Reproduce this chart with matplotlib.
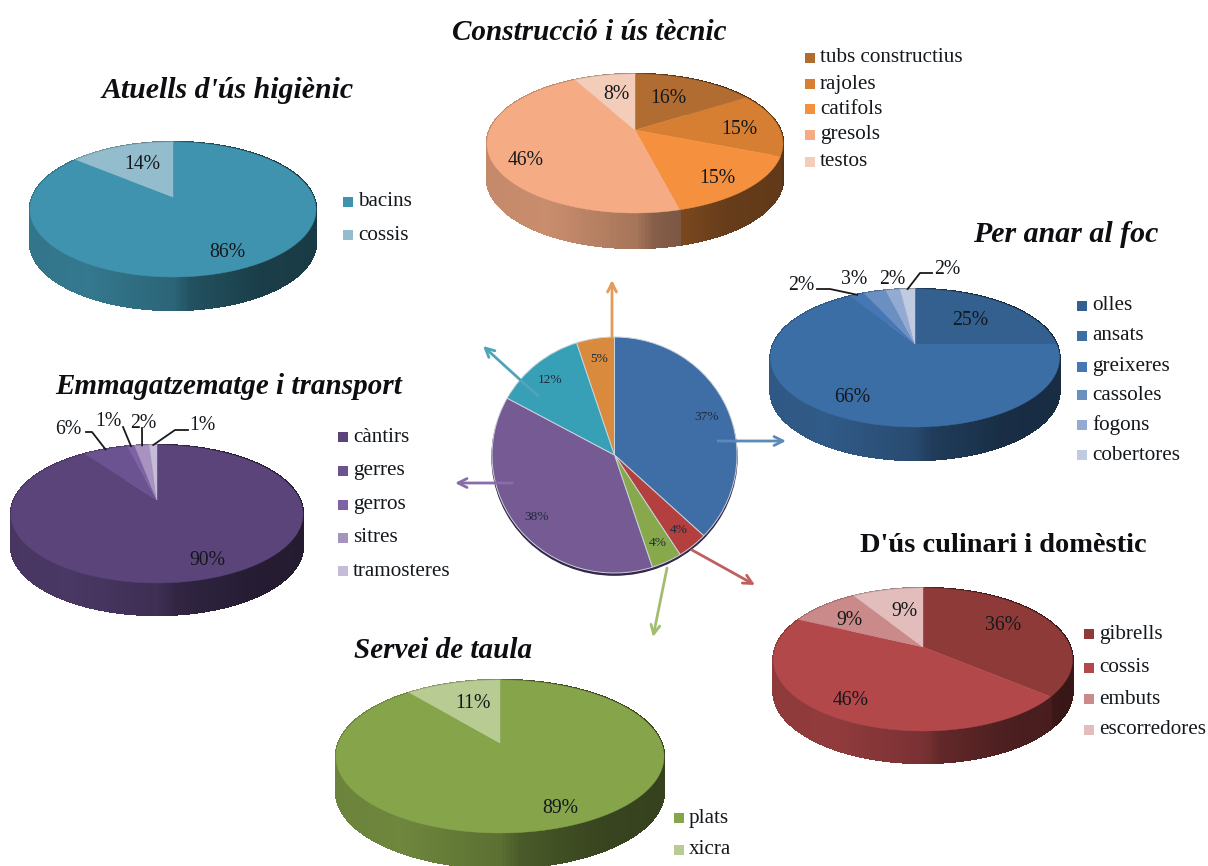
#!/usr/bin/env python3
"""
Pie charts of pottery use: one flat overview pie with six 3D detail pies around it.
"""

import numpy as np
import matplotlib
matplotlib.use("Agg")
import matplotlib.pyplot as plt
from matplotlib.patches import Ellipse

WIDTH, HEIGHT = 1208, 866
SERIF = "Liberation Serif"
TEXT_DARK = "#14181c"

# overview
overview_values = [37, 4, 4, 38, 12, 5]

# detail pies
higienic_labels = ["bacins", "cossis"]
higienic_values = [86, 14]
tecnic_labels = ["tubs constructius", "rajoles", "catifols", "gresols", "testos"]
tecnic_values = [16, 15, 15, 46, 8]
foc_labels = ["olles", "ansats", "greixeres", "cassoles", "fogons", "cobertores"]
foc_values = [25, 66, 2, 3, 2, 2]
transport_labels = ["càntirs", "gerres", "gerros", "sitres", "tramosteres"]
transport_values = [90, 6, 1, 2, 1]
culinari_labels = ["gibrells", "cossis", "embuts", "escorredores"]
culinari_values = [36, 46, 9, 9]
taula_labels = ["plats", "xicra"]
taula_values = [89, 11]

OVERVIEW_COLORS = ["#3f6ea6", "#b33f3e", "#87a94b", "#755a93", "#38a0b6", "#d98a3c"]

# box: left, right, top, apex_x, apex_y, front, bottom in pixels
# nudge: pixel shift of each inside label from its computed place
PIES = [
    {
        "title": "Atuells d'ús higiènic", "title_pos": (228, 91), "title_size": 21.5,
        "labels": higienic_labels, "values": higienic_values,
        "colors": ["#3f93ae", "#93bccd"],
        "box": (30, 316, 142, 173, 197, 277, 310),
        "legend": (348, 358, [202, 235]),
        "nudge": {0: (4, 0), 1: (9, 0)},
    },
    {
        "title": "Construcció i ús tècnic", "title_pos": (589, 32), "title_size": 21,
        "labels": tecnic_labels, "values": tecnic_values,
        "colors": ["#b16c32", "#d67f33", "#f4903e", "#f5ac85", "#f3cdb9"],
        "box": (487, 783, 74, 635, 130, 213, 248),
        "legend": (810, 820, [58, 84, 109, 135, 162]),
        "nudge": {0: (-13, 1), 1: (-1, -2), 2: (3, 1), 3: (-4, 5), 4: (5, 1)},
    },
    {
        "title": "Per anar al foc", "title_pos": (1066, 234), "title_size": 21.5,
        "labels": foc_labels, "values": foc_values,
        "colors": ["#34608f", "#3b6ea5", "#4577b4", "#6b8fc0", "#93abd3", "#c0cbe1"],
        "box": (769, 1058, 289, 915, 344, 427, 460),
        "legend": (1082, 1092, [306, 336, 367, 395, 425, 455]),
        "nudge": {0: (-12, 2), 1: (-5, -2)},
        "outside": {
            2: ((801, 282), [(817, 289), (830, 289)]),
            3: ((854, 276), []),
            4: ((892, 276), []),
            5: ((947, 267), [(932, 273), (920, 273)]),
        },
    },
    {
        "title": "Emmagatzematge i transport", "title_pos": (229, 386), "title_size": 21,
        "labels": transport_labels, "values": transport_values,
        "colors": ["#5a447a", "#6b5290", "#7f62a3", "#a693c0", "#c7bcd8"],
        "box": (12, 304, 445, 157, 500, 583, 615),
        "legend": (343, 353, [437, 471, 505, 538, 571]),
        "nudge": {0: (12, 0)},
        "outside": {
            1: ((68, 426), [(86, 432), (92, 432)]),
            2: ((108, 419), [(123, 427)]),
            3: ((143, 420), [(142, 428)]),
            4: ((202, 423), [(188, 430), (175, 430)]),
        },
    },
    {
        "title": "D'ús culinari i domèstic", "title_pos": (1003, 545), "title_size": 20.4,
        "title_style": "normal",
        "labels": culinari_labels, "values": culinari_values,
        "colors": ["#8e3a38", "#b2484a", "#cb8a8a", "#e3bcbc"],
        "box": (773, 1072, 588, 923, 647, 731, 763),
        "legend": (1089, 1099, [634, 668, 699, 730]),
        "nudge": {0: (-13, -7), 1: (-7, -1), 2: (2, -1), 3: (8, 2)},
    },
    {
        "title": "Servei de taula", "title_pos": (443, 650), "title_size": 21,
        "labels": taula_labels, "values": taula_values,
        "colors": ["#86a44a", "#b7cb93"],
        "box": (335, 663, 680, 500, 743, 833, 868),
        "legend": (679, 689, [818, 850]),
        "nudge": {0: (14, 1), 1: (9, 0)},
    },
]

# tail and head of each arrow leaving the overview pie, with its colour
ARROWS = [
    ((718, 441), (786, 441), "#5b8ab8"),
    ((692, 550), (755, 585), "#c0605e"),
    ((667, 568), (653, 637), "#a3bd6f"),
    ((512, 483), (455, 483), "#8a6cab"),
    ((538, 396), (483, 346), "#4ea5bb"),
    ((612, 337), (612, 280), "#e39a5b"),
]


def make_projection(box):
    """Return a function mapping pie plane (u, v) to pixels with perspective."""
    left, right, _, apex_x, apex_y, front, _ = box
    back = apex_y - box[2]
    ahead = front - apex_y
    k = (ahead - back) / (ahead + back)
    a = 2 * back * ahead / (back + ahead)
    r = (right - left) / 2 * np.sqrt(1 - k ** 2)

    def project(u, v):
        return apex_x + r * u / (1 + k * v), apex_y - a * v / (1 + k * v)

    return project


def slice_edges(values):
    """Slice boundaries in radians, clockwise from twelve o'clock."""
    values = np.asarray(values, dtype=float)
    return np.concatenate([[0], np.cumsum(values)]) / values.sum() * 2 * np.pi


def wall_shade(x, left, right):
    t = (x - left) / (right - left)
    return np.interp(t, [0, 0.2, 0.5, 0.56, 0.8, 1], [0.8, 0.82, 0.68, 0.55, 0.42, 0.4])


def shaded(color, factor):
    rgb = np.array(matplotlib.colors.to_rgb(color))
    return tuple(rgb * factor)


def draw_3d_pie(ax, pie):
    box = pie["box"]
    left, right, _, apex_x, apex_y, front, bottom = box
    depth = bottom - front
    project = make_projection(box)
    edges = slice_edges(pie["values"])

    # wall first, the top surface covers its back half
    for start, stop, color in zip(edges[:-1], edges[1:], pie["colors"]):
        steps = max(int((stop - start) / 0.02), 2)
        angles = np.linspace(start, stop, steps)
        for a0, a1 in zip(angles[:-1], angles[1:]):
            x0, y0 = project(np.sin(a0), np.cos(a0))
            x1, y1 = project(np.sin(a1), np.cos(a1))
            face = shaded(color, wall_shade((x0 + x1) / 2, left, right))
            ax.fill([x0, x1, x1, x0], [y0, y1, y1 + depth, y0 + depth],
                    color=face, lw=1.0, antialiased=False, zorder=2)

    for start, stop, color in zip(edges[:-1], edges[1:], pie["colors"]):
        angles = np.linspace(start, stop, max(int((stop - start) / 0.02), 2))
        xs, ys = project(np.sin(angles), np.cos(angles))
        ax.fill(np.r_[apex_x, xs], np.r_[apex_y, ys], color=color, lw=0.3, zorder=3)

    outside = pie.get("outside", {})
    nudge = pie.get("nudge", {})
    for i, value in enumerate(pie["values"]):
        mid = (edges[i] + edges[i + 1]) / 2
        if i in outside:
            pos, elbow = outside[i]
            pos = (pos[0], pos[1] + 3)
            if elbow:
                rim = project(np.sin(mid), np.cos(mid))
                path = elbow + [rim]
                ax.plot([p[0] for p in path], [p[1] for p in path],
                        color="#1a1a1a", lw=1.3, zorder=4)
        else:
            x, y = project(0.74 * np.sin(mid), 0.74 * np.cos(mid))
            dx, dy = nudge.get(i, (0, 0))
            pos = (x + dx, y + 6 + dy)
        ax.text(pos[0], pos[1], f"{value}%", family=SERIF, fontsize=14.2,
                color=TEXT_DARK, ha="center", va="center", zorder=5)

    swatch_x, text_x, legend_ys = pie["legend"]
    for label, color, y in zip(pie["labels"], pie["colors"], legend_ys):
        ax.scatter([swatch_x], [y], marker="s", s=48, color=color, lw=0, zorder=4)
        ax.text(text_x, y, label, family=SERIF, fontsize=15.2, color=TEXT_DARK,
                ha="left", va="center", zorder=5)

    ax.text(pie["title_pos"][0], pie["title_pos"][1], pie["title"], family=SERIF,
            fontsize=pie["title_size"], style=pie.get("title_style", "italic"),
            weight="bold", color="#0d0d12", ha="center", va="center", zorder=5)


def draw_overview(fig):
    """Flat pie in the middle; sits under the main axes so arrows cross it."""
    x0, x1, y0, y1 = 492, 737, 337, 573
    ax = fig.add_axes([x0 / WIDTH, 1 - y1 / HEIGHT, (x1 - x0) / WIDTH, (y1 - y0) / HEIGHT],
                      zorder=0)
    ax.add_patch(Ellipse((0, -0.018), 2, 2, color="#33264a", zorder=0, clip_on=False))
    wedges, _, _ = ax.pie(
        overview_values, colors=OVERVIEW_COLORS, startangle=90, counterclock=False,
        autopct="%.0f%%", pctdistance=0.82,
        wedgeprops={"edgecolor": "#c9d3dc", "linewidth": 0.7},
        textprops={"family": SERIF, "fontsize": 9.6, "color": "#1d2a3a"},
    )
    for wedge in wedges:
        wedge.set_clip_on(False)
    ax.set_aspect("auto")
    ax.set_xlim(-1.0, 1.0)
    ax.set_ylim(-1.0, 1.0)


def main():
    fig = plt.figure(figsize=(WIDTH / 100, HEIGHT / 100), dpi=100, facecolor="white")
    draw_overview(fig)

    ax = fig.add_axes([0, 0, 1, 1], zorder=1)
    ax.set_xlim(0, WIDTH)
    ax.set_ylim(HEIGHT, 0)
    ax.axis("off")

    for pie in PIES:
        draw_3d_pie(ax, pie)

    for tail, head, color in ARROWS:
        ax.annotate("", xy=head, xytext=tail, zorder=6,
                    arrowprops={"arrowstyle": "->", "color": color, "lw": 2,
                                "mutation_scale": 16, "shrinkA": 0, "shrinkB": 0})

    fig.savefig("out.png", dpi=100)
    plt.close(fig)


if __name__ == "__main__":
    main()
